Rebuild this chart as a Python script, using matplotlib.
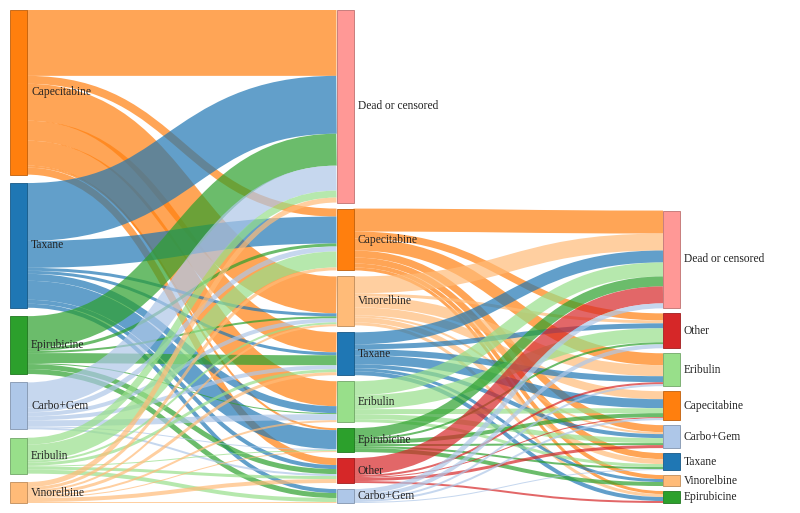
import matplotlib.pyplot as plt
import matplotlib.colors as mcolors
from matplotlib.path import Path
from matplotlib.patches import PathPatch, Rectangle

# nodes per column (top to bottom)
col1_nodes = ["Capecitabine", "Taxane", "Epirubicine", "Carbo+Gem", "Eribulin", "Vinorelbine"]
col2_nodes = ["Dead or censored", "Capecitabine", "Vinorelbine", "Taxane", "Eribulin",
              "Epirubicine", "Other", "Carbo+Gem"]
col3_nodes = ["Dead or censored", "Other", "Eribulin", "Capecitabine", "Carbo+Gem",
              "Taxane", "Vinorelbine", "Epirubicine"]

# flows: rows = source node, columns = target node
flows_1_2 = [
    [66, 8, 37, 20, 25, 2, 7, 0],   # Capecitabine
    [58, 27, 3, 3, 7, 19, 4, 4],    # Taxane
    [32, 3, 2, 10, 1, 0, 5, 5],     # Epirubicine
    [25, 5, 4, 4, 6, 1, 2, 0],      # Carbo+Gem
    [7, 16, 2, 3, 0, 1, 3, 4],      # Eribulin
    [5, 3, 2, 3, 2, 1, 4, 1],       # Vinorelbine
]
# second line sources = col2 nodes except "Dead or censored"
flows_2_3 = [
    [23, 7, 12, 0, 7, 6, 4, 3],     # Capecitabine
    [17, 3, 11, 8, 2, 5, 0, 3],     # Vinorelbine
    [12, 5, 6, 9, 4, 0, 3, 4],      # Taxane
    [14, 14, 0, 5, 5, 3, 0, 0],     # Eribulin
    [10, 2, 0, 4, 2, 2, 4, 0],      # Epirubicine
    [17, 0, 2, 1, 3, 0, 0, 2],      # Other
    [5, 4, 2, 2, 0, 1, 0, 0],       # Carbo+Gem
]

colors = {
    "Capecitabine": "#ff7f0e", "Taxane": "#1f77b4", "Epirubicine": "#2ca02c",
    "Carbo+Gem": "#aec7e8", "Eribulin": "#98df8a", "Vinorelbine": "#ffbb78",
    "Other": "#d62728", "Dead or censored": "#ff9896",
}

W, H, DPI = 800, 513, 100
top, bottom = 10, 503
left, right = 10, 680
node_w = 17

columns = [col1_nodes, col2_nodes, col3_nodes]

# build node list and links
nodes = []
for c, names in enumerate(columns):
    for i, n in enumerate(names):
        nodes.append({"name": n, "col": c, "i": i, "in": 0, "out": 0,
                      "src": [], "tgt": []})

def nid(c, i):
    return sum(len(columns[k]) for k in range(c)) + i

links = []
for si, row in enumerate(flows_1_2):
    for ti, v in enumerate(row):
        if v > 0:
            links.append({"s": nid(0, si), "t": nid(1, ti), "v": v})
for si, row in enumerate(flows_2_3):
    for ti, v in enumerate(row):
        if v > 0:
            links.append({"s": nid(1, si + 1), "t": nid(2, ti), "v": v})
for l in links:
    nodes[l["s"]]["out"] += l["v"]
    nodes[l["t"]]["in"] += l["v"]
    nodes[l["s"]]["src"].append(l)
    nodes[l["t"]]["tgt"].append(l)
for n in nodes:
    n["val"] = max(n["in"], n["out"])

pad = 6
ky = min((bottom - top - (len(names) - 1) * pad) /
         sum(nodes[nid(c, i)]["val"] for i in range(len(names)))
         for c, names in enumerate(columns))

# vertical placement: first two columns fill the height, last column packed at bottom
for c, names in enumerate(columns):
    ids = [nid(c, i) for i in range(len(names))]
    total = sum(nodes[k]["val"] for k in ids) * ky
    if c < 2:
        gap = (bottom - top - total) / (len(ids) - 1)
        y = top
    else:
        gap = 5
        y = bottom - total - gap * (len(ids) - 1)
    x0 = left + c * (right - left - node_w) / 2
    for k in ids:
        nodes[k]["x0"] = x0
        nodes[k]["x1"] = x0 + node_w
        nodes[k]["y0"] = y
        nodes[k]["y1"] = y + nodes[k]["val"] * ky
        y = nodes[k]["y1"] + gap

# link offsets (sorted by position of the other end)
for n in nodes:
    y = n["y0"]
    for l in sorted(n["src"], key=lambda l: nodes[l["t"]]["y0"]):
        l["ys"] = y + l["v"] * ky / 2
        y += l["v"] * ky
    y = n["y0"]
    for l in sorted(n["tgt"], key=lambda l: nodes[l["s"]]["y0"]):
        l["yt"] = y + l["v"] * ky / 2
        y += l["v"] * ky

fig = plt.figure(figsize=(W / DPI, H / DPI), dpi=DPI)
ax = fig.add_axes([0, 0, 1, 1])
ax.set_xlim(0, W)
ax.set_ylim(H, 0)
ax.axis("off")

for l in links:
    s, t = nodes[l["s"]], nodes[l["t"]]
    xa, xb = s["x1"], t["x0"]
    xm = (xa + xb) / 2
    path = Path([(xa, l["ys"]), (xm, l["ys"]), (xm, l["yt"]), (xb, l["yt"])],
                [Path.MOVETO, Path.CURVE4, Path.CURVE4, Path.CURVE4])
    ax.add_patch(PathPatch(path, facecolor="none", edgecolor=colors[s["name"]],
                           lw=l["v"] * ky * 72 / DPI, alpha=0.7, capstyle="butt"))

for n in nodes:
    col = colors[n["name"]]
    edge = [v * 0.75 for v in mcolors.to_rgb(col)]
    ax.add_patch(Rectangle((n["x0"], n["y0"]), node_w, n["y1"] - n["y0"],
                           facecolor=col, edgecolor=edge, lw=0.6))
    ax.text(n["x1"] + 4, (n["y0"] + n["y1"]) / 2, n["name"], ha="left", va="center",
            fontsize=8.3, family="Liberation Serif", color="#222222")

fig.savefig("out.png", dpi=DPI)
